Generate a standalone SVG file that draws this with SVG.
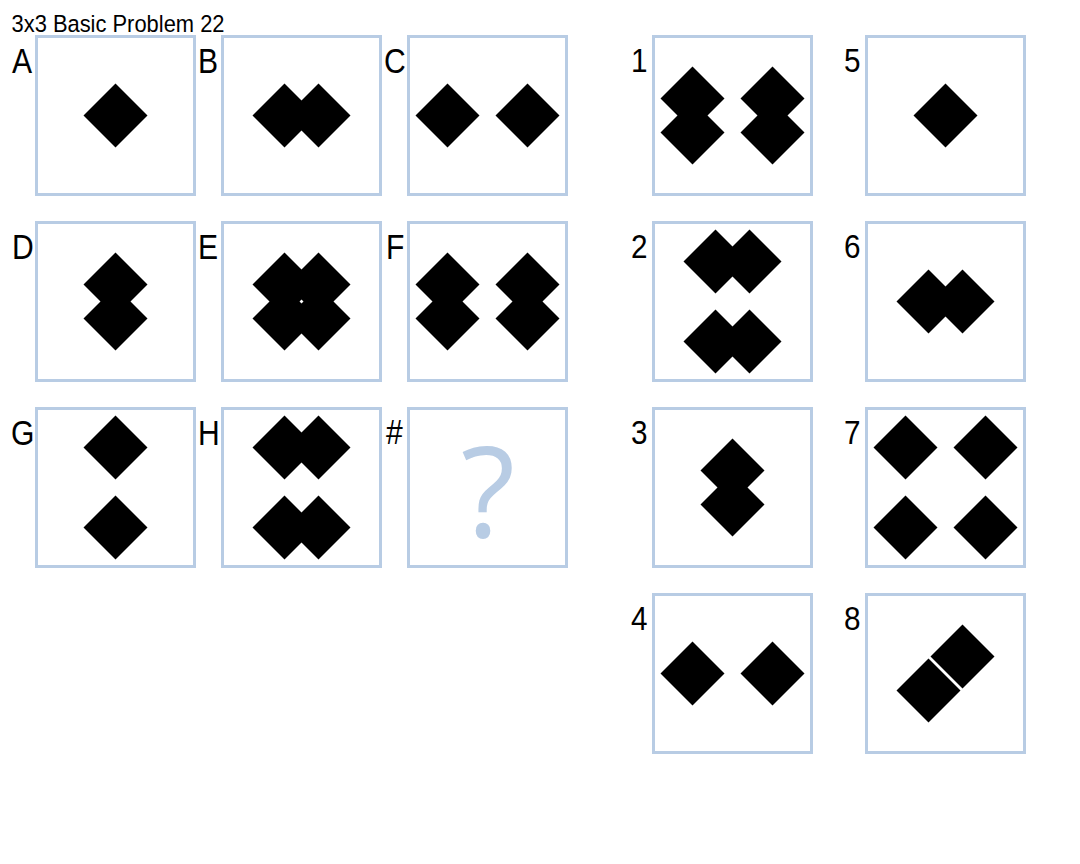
<svg xmlns="http://www.w3.org/2000/svg" xmlns:xlink="http://www.w3.org/1999/xlink" width="1080" height="864" viewBox="0 0 1080 864">
<style>
.box{fill:#ffffff;stroke:#b8cce4;stroke-width:3}
.lbl{font-family:"Liberation Sans",Arial,sans-serif;font-size:35px;fill:#000000}
.dig{font-family:"Liberation Sans",Arial,sans-serif;font-size:33px;fill:#000000}
.title{font-family:"Liberation Sans",Arial,sans-serif;font-size:24.5px;fill:#000000}
.q{font-family:"Open Sans","Liberation Sans",sans-serif;font-size:126px;fill:#b8cce4}
</style>
<defs>
<path id="d" d="M0,-32 L32,0 L0,32 L-32,0 Z" fill="#000000"/>
</defs>
<rect width="1080" height="864" fill="#ffffff"/>
<text class="title" x="11.5" y="31.5" textLength="213" lengthAdjust="spacingAndGlyphs">3x3 Basic Problem 22</text>

<g id="A">
<rect class="box" x="36.5" y="36.5" width="158" height="158"/>
<text class="lbl" transform="translate(12,72.5) scale(0.86,1)">A</text>
<use xlink:href="#d" x="115.5" y="115.5"/>
</g>
<g id="B">
<rect class="box" x="222.5" y="36.5" width="158" height="158"/>
<text class="lbl" transform="translate(198,72.5) scale(0.86,1)">B</text>
<use xlink:href="#d" x="284.5" y="115.5"/>
<use xlink:href="#d" x="318.5" y="115.5"/>
</g>
<g id="C">
<rect class="box" x="408.5" y="36.5" width="158" height="158"/>
<text class="lbl" transform="translate(384,72.5) scale(0.86,1)">C</text>
<use xlink:href="#d" x="447.5" y="115.5"/>
<use xlink:href="#d" x="527.5" y="115.5"/>
</g>
<g id="D">
<rect class="box" x="36.5" y="222.5" width="158" height="158"/>
<text class="lbl" transform="translate(12,258.5) scale(0.86,1)">D</text>
<use xlink:href="#d" x="115.5" y="284.5"/>
<use xlink:href="#d" x="115.5" y="318.5"/>
</g>
<g id="E">
<rect class="box" x="222.5" y="222.5" width="158" height="158"/>
<text class="lbl" transform="translate(198,258.5) scale(0.86,1)">E</text>
<use xlink:href="#d" x="284.5" y="284.5"/>
<use xlink:href="#d" x="318.5" y="284.5"/>
<use xlink:href="#d" x="284.5" y="318.5"/>
<use xlink:href="#d" x="318.5" y="318.5"/>
</g>
<g id="F">
<rect class="box" x="408.5" y="222.5" width="158" height="158"/>
<text class="lbl" transform="translate(386,258.5) scale(0.86,1)">F</text>
<use xlink:href="#d" x="447.5" y="284.5"/>
<use xlink:href="#d" x="447.5" y="318.5"/>
<use xlink:href="#d" x="527.5" y="284.5"/>
<use xlink:href="#d" x="527.5" y="318.5"/>
</g>
<g id="G">
<rect class="box" x="36.5" y="408.5" width="158" height="158"/>
<text class="lbl" transform="translate(11,444.5) scale(0.86,1)">G</text>
<use xlink:href="#d" x="115.5" y="447.5"/>
<use xlink:href="#d" x="115.5" y="527.5"/>
</g>
<g id="H">
<rect class="box" x="222.5" y="408.5" width="158" height="158"/>
<text class="lbl" transform="translate(198,444.5) scale(0.86,1)">H</text>
<use xlink:href="#d" x="284.5" y="447.5"/>
<use xlink:href="#d" x="318.5" y="447.5"/>
<use xlink:href="#d" x="284.5" y="527.5"/>
<use xlink:href="#d" x="318.5" y="527.5"/>
</g>
<g id="Q">
<rect class="box" x="408.5" y="408.5" width="158" height="158"/>
<text class="lbl" transform="translate(386,443.5) scale(0.86,1)">#</text>
<text class="q" x="488" y="537" text-anchor="middle">?</text>
</g>

<g id="opt1">
<rect class="box" x="653.5" y="36.5" width="158" height="158"/>
<text class="dig" transform="translate(631,72) scale(0.9,1)">1</text>
<use xlink:href="#d" x="692.5" y="98.5"/>
<use xlink:href="#d" x="692.5" y="132.5"/>
<use xlink:href="#d" x="772.5" y="98.5"/>
<use xlink:href="#d" x="772.5" y="132.5"/>
</g>
<g id="opt2">
<rect class="box" x="653.5" y="222.5" width="158" height="158"/>
<text class="dig" transform="translate(631,258) scale(0.9,1)">2</text>
<use xlink:href="#d" x="715.5" y="261.5"/>
<use xlink:href="#d" x="749.5" y="261.5"/>
<use xlink:href="#d" x="715.5" y="341.5"/>
<use xlink:href="#d" x="749.5" y="341.5"/>
</g>
<g id="opt3">
<rect class="box" x="653.5" y="408.5" width="158" height="158"/>
<text class="dig" transform="translate(631,444) scale(0.9,1)">3</text>
<use xlink:href="#d" x="732.5" y="470.5"/>
<use xlink:href="#d" x="732.5" y="504.5"/>
</g>
<g id="opt4">
<rect class="box" x="653.5" y="594.5" width="158" height="158"/>
<text class="dig" transform="translate(631,630) scale(0.9,1)">4</text>
<use xlink:href="#d" x="692.5" y="673.5"/>
<use xlink:href="#d" x="772.5" y="673.5"/>
</g>
<g id="opt5">
<rect class="box" x="866.5" y="36.5" width="158" height="158"/>
<text class="dig" transform="translate(844,72) scale(0.9,1)">5</text>
<use xlink:href="#d" x="945.5" y="115.5"/>
</g>
<g id="opt6">
<rect class="box" x="866.5" y="222.5" width="158" height="158"/>
<text class="dig" transform="translate(844,258) scale(0.9,1)">6</text>
<use xlink:href="#d" x="928.5" y="301.5"/>
<use xlink:href="#d" x="962.5" y="301.5"/>
</g>
<g id="opt7">
<rect class="box" x="866.5" y="408.5" width="158" height="158"/>
<text class="dig" transform="translate(844,444) scale(0.9,1)">7</text>
<use xlink:href="#d" x="905.5" y="447.5"/>
<use xlink:href="#d" x="985.5" y="447.5"/>
<use xlink:href="#d" x="905.5" y="527.5"/>
<use xlink:href="#d" x="985.5" y="527.5"/>
</g>
<g id="opt8">
<rect class="box" x="866.5" y="594.5" width="158" height="158"/>
<text class="dig" transform="translate(844,630) scale(0.9,1)">8</text>
<use xlink:href="#d" x="962.5" y="656.5"/>
<use xlink:href="#d" x="928.5" y="690.5"/>
</g>
<g id="connectors"></g>
</svg>
